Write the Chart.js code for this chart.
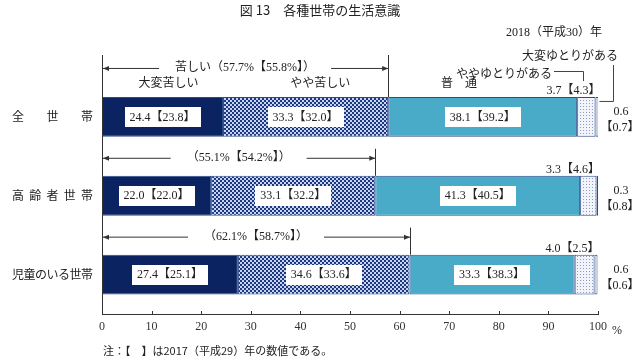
<!DOCTYPE html>
<html lang="ja">
<head>
<meta charset="utf-8">
<title>各種世帯の生活意識</title>
<script src="https://cdn.jsdelivr.net/npm/chart.js@4"></script>
<style>
  html, body { margin: 0; padding: 0; background: #fff; }
  #chart { display: block; }
</style>
</head>
<body>
<canvas id="chart" width="640" height="360"></canvas>
<script>
// ---- Data (2018, with 2017 values in 【】) ----
const categories = ['全世帯', '高齢者世帯', '児童のいる世帯'];
const seriesNames = ['大変苦しい', 'やや苦しい', '普通', 'ややゆとりがある', '大変ゆとりがある'];

const veryHard     = [24.4, 22.0, 27.4];
const someHard     = [33.3, 33.1, 34.6];
const normal       = [38.1, 41.3, 33.3];
const someRoom     = [3.7, 3.3, 4.0];
const muchRoom     = [0.6, 0.3, 0.6];

const veryHard2017 = [23.8, 22.0, 25.1];
const someHard2017 = [32.0, 32.2, 33.6];
const normal2017   = [39.2, 40.5, 38.3];
const someRoom2017 = [4.3, 4.6, 2.5];
const muchRoom2017 = [0.7, 0.8, 0.6];

const hardTotal     = [57.7, 55.1, 62.1];
const hardTotal2017 = [55.8, 54.2, 58.7];

const xTicks = [0, 10, 20, 30, 40, 50, 60, 70, 80, 90, 100];

// ---- Styling helpers ----
const JP = "'Noto Sans CJK JP', sans-serif";
const NUM = "'Liberation Serif', 'Noto Sans CJK JP', serif";
const INK = '#222';
const EDGE = '#2c4c8c';

function makePattern(size, draw){
  const c = document.createElement('canvas');
  c.width = c.height = size;
  const g = c.getContext('2d');
  draw(g);
  return g.createPattern(c, 'repeat');
}
const checker = makePattern(4, g => {
  g.fillStyle = '#c8d3ee'; g.fillRect(0, 0, 4, 4);
  g.fillStyle = '#1c3880'; g.fillRect(0, 0, 2, 2); g.fillRect(2, 2, 2, 2);
});
const dots = makePattern(3, g => {
  g.fillStyle = '#f2f4fa'; g.fillRect(0, 0, 3, 3);
  g.fillStyle = '#8d9cc6'; g.fillRect(1, 1, 1, 1);
});

const values = [veryHard, someHard, normal, someRoom, muchRoom];
const prev = [veryHard2017, someHard2017, normal2017, someRoom2017, muchRoom2017];
const fills = ['#0b2461', checker, '#4aabc8', dots, '#ffffff'];

const fmt = (v) => v.toFixed(1);

function txt(ctx, s, x, y, font, align='center', color=INK){
  ctx.font = font; ctx.fillStyle = color; ctx.textAlign = align; ctx.textBaseline = 'middle';
  ctx.fillText(s, x, y);
}
function line(ctx, pts){
  ctx.beginPath(); ctx.moveTo(pts[0][0], pts[0][1]);
  for (let i = 1; i < pts.length; i++) ctx.lineTo(pts[i][0], pts[i][1]);
  ctx.stroke();
}
function arrowHead(ctx, x, y, dir){
  ctx.beginPath(); ctx.moveTo(x, y); ctx.lineTo(x - dir*6, y - 2.5); ctx.lineTo(x - dir*6, y + 2.5); ctx.closePath(); ctx.fill();
}

// ---- Annotations plugin ----
const annotate = {
  id: 'annotate',
  afterDatasetsDraw(chart){
    const { ctx, chartArea: a, scales: { x, y } } = chart;
    ctx.save();
    ctx.strokeStyle = '#333'; ctx.fillStyle = '#333'; ctx.lineWidth = 1;

    // left axis line (runs above plot), inward ticks on x axis
    const axTop = 55;
    line(ctx, [[a.left + 0.5, axTop], [a.left + 0.5, a.bottom]]);
    xTicks.forEach(t => { const px = Math.round(x.getPixelForValue(t)) + 0.5; line(ctx, [[px, a.bottom], [px, a.bottom - 3]]); });

    const metas = values.map((_, i) => chart.getDatasetMeta(i));

    categories.forEach((cat, i) => {
      const cy = y.getPixelForValue(i);
      const bar = metas[0].data[i];
      const top = cy - bar.height / 2;

      // category label, justified across a fixed width
      const chars = [...cat];
      const l = 12, r = 93, w = 12;
      const step = chars.length > 1 ? (r - l - w) / (chars.length - 1) : 0;
      chars.forEach((ch, k) => txt(ctx, ch, l + w/2 + k*step, cy, `12px ${JP}`));

      // boxed labels for the three big segments
      for (let s = 0; s < 3; s++) {
        const el = metas[s].data[i];
        const cx = (el.x + el.base) / 2;
        const label = `${fmt(values[s][i])}【${fmt(prev[s][i])}】`;
        ctx.font = `12px ${NUM}`;
        const tw = ctx.measureText(label).width;
        ctx.fillStyle = '#fff';
        ctx.fillRect(Math.round(cx - tw/2 - 5), Math.round(cy - 10), Math.round(tw + 10), 20);
        txt(ctx, label, cx, cy + 0.5, `12px ${NUM}`);
      }

      // small segments: above the bar and to the right
      const endX = metas[4].data[i].x;
      txt(ctx, `${fmt(someRoom[i])}【${fmt(someRoom2017[i])}】`, endX + 2, top - 6, `12px ${NUM}`, 'right');
      txt(ctx, fmt(muchRoom[i]), a.right + 23, cy - 5, `12px ${NUM}`);
      txt(ctx, `【${fmt(muchRoom2017[i])}】`, a.right + 22, cy + 11, `12px ${NUM}`);

      // "hard" bracket with arrows
      ctx.strokeStyle = '#333'; ctx.fillStyle = '#333';
      const hx = x.getPixelForValue(hardTotal[i]);
      const ly = i === 0 ? top - 29 : top - 18;
      const vTop = i === 0 ? axTop : ly - 9;
      line(ctx, [[Math.round(hx) + 0.5, vTop], [Math.round(hx) + 0.5, top]]);
      line(ctx, [[a.left, ly + 0.5], [hx, ly + 0.5]]);
      arrowHead(ctx, a.left + 1, ly + 0.5, -1);
      arrowHead(ctx, hx, ly + 0.5, 1);
      const bt = (i === 0 ? '苦しい' : '') + `（${fmt(hardTotal[i])}%【${fmt(hardTotal2017[i])}%】）`;
      ctx.font = `12px ${NUM}`;
      const bw = ctx.measureText(bt).width;
      const bcx = (a.left + hx) / 2;
      ctx.fillStyle = '#fff'; ctx.fillRect(bcx - bw/2 - 16, ly - 6, bw + 32, 12);
      txt(ctx, bt, bcx, ly, `12px ${NUM}`);
    });

    // series names above the first bar
    const top0 = y.getPixelForValue(0) - metas[0].data[0].height / 2;
    const e0 = metas[0].data[0];
    txt(ctx, seriesNames[0], (e0.x + e0.base)/2 + 6, top0 - 15, `12px ${JP}`);
    txt(ctx, seriesNames[1], x.getPixelForValue(44), top0 - 15, `12px ${JP}`);
    txt(ctx, '普　通', x.getPixelForValue(72), top0 - 15, `12px ${JP}`);

    // small-segment legend with leader lines
    ctx.strokeStyle = '#444';
    txt(ctx, seriesNames[3], 552, 73, `12px ${JP}`, 'right');
    line(ctx, [[554, 71.5], [583.5, 71.5], [583.5, 81]]);
    txt(ctx, seriesNames[4], 618, 55, `12px ${JP}`, 'right');
    const endX0 = metas[4].data[0].x;
    line(ctx, [[613.5, 65], [613.5, top0 + 4.5], [endX0 + 1, top0 + 4.5]]);

    // title, year, unit, note
    txt(ctx, '図 13　各種世帯の生活意識', 320, 10, `13px ${JP}`);
    txt(ctx, '2018（平成30）年', 602, 33, `12px ${NUM}`, 'right');
    txt(ctx, '%', 617, 331, `12px ${NUM}`);
    txt(ctx, '注：【　】は2017（平成29）年の数値である。', 103, 351, `11px ${JP}`, 'left');
    ctx.restore();
  }
};

new Chart(document.getElementById('chart'), {
  type: 'bar',
  data: {
    labels: categories,
    datasets: values.map((v, i) => ({
      label: seriesNames[i],
      data: v,
      backgroundColor: fills[i],
      borderColor: EDGE,
      borderWidth: 1,
      borderSkipped: false,
      categoryPercentage: 1,
      barPercentage: 40 / 79
    }))
  },
  options: {
    indexAxis: 'y',
    responsive: false,
    animation: false,
    devicePixelRatio: 1,
    layout: { padding: { top: 77.5, right: 42, bottom: 0, left: 0 } },
    plugins: { legend: { display: false }, title: { display: false }, tooltip: { enabled: false } },
    scales: {
      x: {
        stacked: true, min: 0, max: 100,
        afterBuildTicks: (s) => { s.ticks = xTicks.map(v => ({ value: v })); },
        afterFit: (s) => { s.height = 46; },
        grid: { display: false, drawTicks: false },
        border: { display: true, color: '#333', width: 1 },
        ticks: { color: '#333', padding: 6, font: { family: "'Liberation Serif', serif", size: 12 } }
      },
      y: {
        stacked: true,
        afterFit: (s) => { s.width = 102; },
        grid: { display: false, drawTicks: false },
        border: { display: false },
        ticks: { display: false }
      }
    }
  },
  plugins: [annotate]
});
</script>
</body>
</html>
